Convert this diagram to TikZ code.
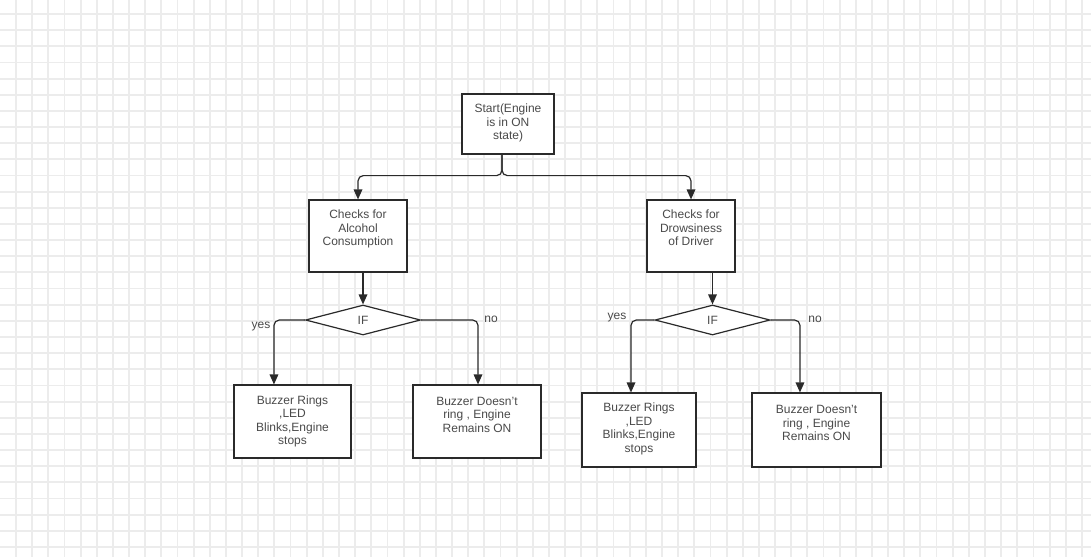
\documentclass[tikz,border=0pt]{standalone}
\usepackage{fontspec}
\setmainfont{Liberation Sans}
\usetikzlibrary{arrows.meta,shapes.geometric}
\definecolor{gridc}{HTML}{ECECEC}
\definecolor{ink}{HTML}{2A2A2A}
\definecolor{txtc}{HTML}{4A4A4A}
\begin{document}
\begin{tikzpicture}[x=0.75pt,y=-0.75pt,
  gridline/.style={draw=gridc,line width=1.4pt},
  box/.style={draw=ink,line width=0.9pt,fill=white,inner sep=0pt},
  decision/.style={diamond,draw=ink,line width=0.9pt,fill=white,inner sep=0pt},
  txt/.style={text=txtc,font=\fontsize{9}{10.1}\selectfont,align=center,inner sep=0pt},
  lbl/.style={text=txtc,font=\fontsize{9}{10.1}\selectfont,inner sep=0pt},
  flow/.style={draw=ink,line width=0.9pt,rounded corners=4pt,
    -{Triangle[length=7.5pt,width=6.5pt]}}
]
% page and grid
\fill[white] (0,0) rectangle (1091,557);
\useasboundingbox (0,0) rectangle (1091,557);
\foreach \k in {0,...,66} \draw[gridline] ({16+16.15*\k},0) -- ++(0,557);
\foreach \k in {0,...,33} \draw[gridline] (0,{14+16.15*\k}) -- ++(1091,0);

% boxes
\node[box,minimum width=69pt,minimum height=45pt] (start) at (508,124) {};
\node[box,minimum width=73.5pt,minimum height=54pt] (alc) at (358,236) {};
\node[box,minimum width=66pt,minimum height=54pt] (drw) at (691,236) {};
\node[decision,minimum width=86.25pt,minimum height=22.5pt] (d1) at (363,320) {};
\node[decision,minimum width=86.25pt,minimum height=22.5pt] (d2) at (712.5,320) {};
\node[box,minimum width=87.75pt,minimum height=54.75pt] (b1) at (292.5,421.5) {};
\node[box,minimum width=96pt,minimum height=54.75pt] (b2) at (477,421.5) {};
\node[box,minimum width=85.5pt,minimum height=55.5pt] (b3) at (639,430) {};
\node[box,minimum width=96.75pt,minimum height=55.5pt] (b4) at (816.5,430) {};

% texts
\node[txt] (tstart) at ([yshift=0.75pt]start.center) {Start(Engine\\is in ON\\state)};
\node[txt] (talc) at ([yshift=5.25pt]alc.center) {Checks for\\Alcohol\\Consumption};
\node[txt] (tdrw) at ([yshift=6pt]drw.center) {Checks for\\Drowsiness\\of Driver};
\node[txt] (td1) at (d1.center) {IF};
\node[txt] (td2) at (d2.center) {IF};
\node[txt] (tb1) at (b1.center) {Buzzer Rings\\,LED\\Blinks,Engine\\stops};
\node[txt] (tb2) at ([yshift=5.25pt]b2.center) {Buzzer Doesn't\\ring , Engine\\Remains ON};
\node[txt] (tb3) at ([yshift=0.75pt]b3.center) {Buzzer Rings\\,LED\\Blinks,Engine\\stops};
\node[txt] (tb4) at ([yshift=5.25pt]b4.center) {Buzzer Doesn't\\ring , Engine\\Remains ON};

% connectors
\draw[flow] ([xshift=-4.5pt]start.south) -- ++(0,21) -| (alc.north);
\draw[flow] ([xshift=-4.5pt]start.south) -- ++(0,21) -| (drw.north);
\draw[flow] (alc.south -| d1.north) -- (d1.north);
\draw[flow] (drw.south -| d2.north) -- (d2.north);
\draw[flow] (d1.west) -| ([xshift=-13.9pt]b1.north);
\draw[flow] (d1.east) -| ([xshift=0.75pt]b2.north);
\draw[flow] (d2.west) -| ([xshift=-6pt]b3.north);
\draw[flow] (d2.east) -| ([xshift=-12.4pt]b4.north);

% branch labels
\node[lbl] (y1) at (261,327) {yes};
\node[lbl] (n1) at (491,319) {no};
\node[lbl] (y2) at (617,318) {yes};
\node[lbl] (n2) at (815,319) {no};
\end{tikzpicture}
\end{document}
